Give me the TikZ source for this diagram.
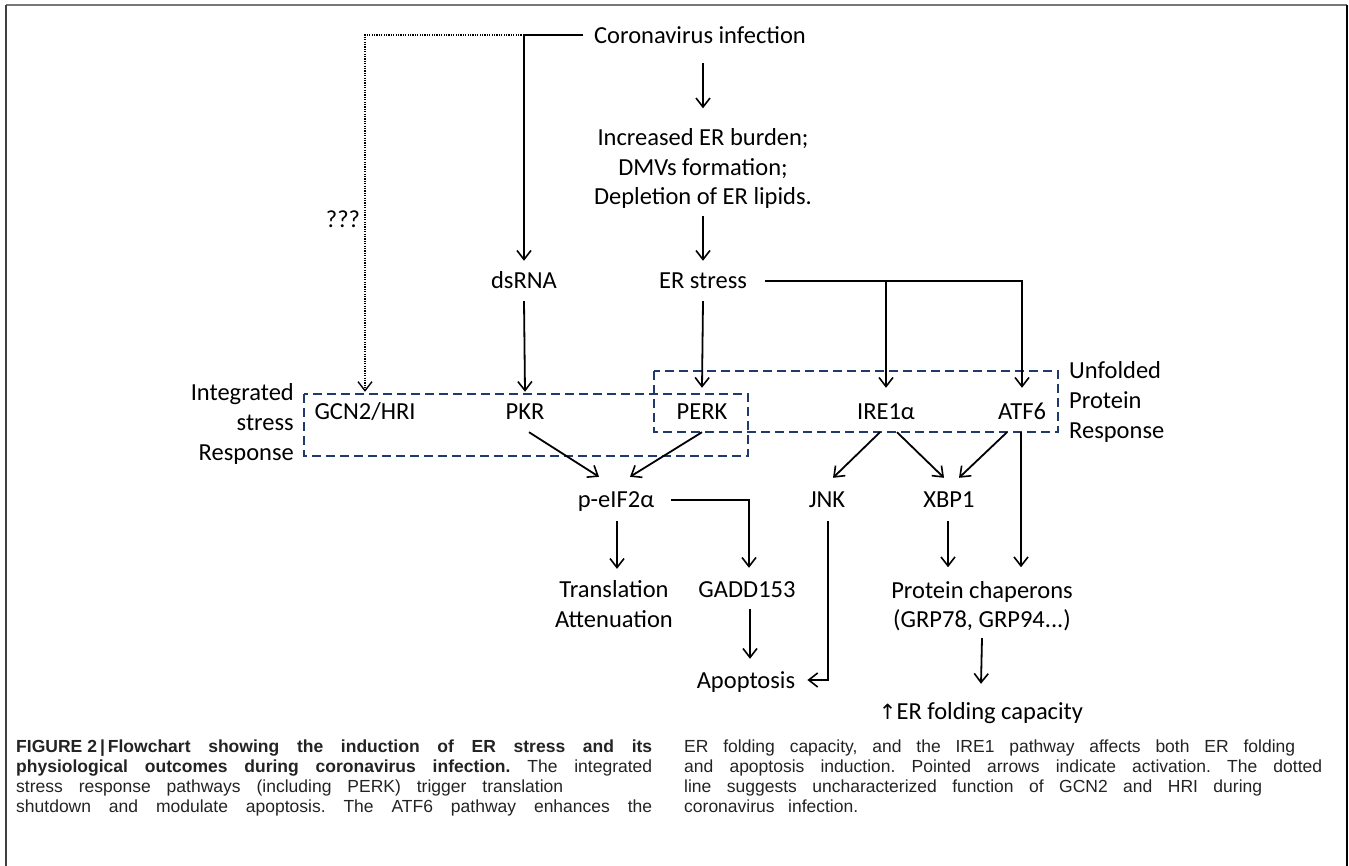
\documentclass[tikz,border=0pt]{standalone}
\usepackage{fontspec}
\usetikzlibrary{arrows.meta}
\setmainfont{Carlito}
\newfontfamily\diagf{Carlito}
\newfontfamily\djv{DejaVu Sans}
\newfontfamily\capf{Liberation Sans}
\definecolor{boxblue}{RGB}{32,58,110}
\definecolor{framegray}{RGB}{120,120,120}
\definecolor{captext}{RGB}{35,35,35}
\frenchspacing
\tikzset{
  lbl/.style={font=\diagf\fontsize{24.5}{29.5}\selectfont, inner sep=0pt, text height=17pt, text depth=5pt, anchor=base},
  mlbl/.style={font=\diagf\fontsize{24.5}{29.5}\selectfont, inner sep=0pt, align=center},
  side/.style={font=\diagf\fontsize{24.5}{30}\selectfont, inner sep=0pt},
  arr/.style={line width=1.8pt, -{Straight Barb[length=9pt,width=14pt,line width=1.6pt]}},
  dots/.style={line width=1.8pt, dash pattern=on 1.2pt off 1.2pt},
  grp/.style={draw=boxblue, line width=2.6pt, dash pattern=on 9pt off 5pt},
  captxt/.style={font=\capf\fontsize{17.5}{20}\selectfont, text=captext, inner sep=0pt, anchor=base west},
}
\begin{document}
\begin{tikzpicture}[x=1pt, y=-1pt]
\useasboundingbox (0,0) rectangle (1349,866);
% frame
\draw[framegray, line width=2pt] (6,5) -- (1347,5);
\draw[black!75, line width=1.5pt] (6,5) -- (6,866);
\draw[black, line width=2pt] (1347,5) -- (1347,866);

% group boxes
\draw[grp] (304,394) rectangle (748,456);
\draw[grp] (654,371) rectangle (1058,432);

% nodes
\node[lbl] (cor) at (700,44) {Coronavirus infection};
\node[mlbl] (inc) at (703,168.5) {Increased ER burden;\\DMVs formation;\\Depletion of ER lipids.};
\node[lbl] (ers) at (703,289) {ER stress};
\node[lbl] (dsrna) at (524,289) {dsRNA};
\node[lbl] (qqq) at (343,228) {???};
\node[lbl] (gcn) at (365,419) {GCN2/HRI};
\node[lbl] (pkr) at (525,419) {PKR};
\node[lbl] (perk) at (702,419) {PERK};
\node[lbl] (ire) at (886,419) {IRE1α};
\node[lbl] (atf) at (1022,419) {ATF6};
\node[side, align=right, anchor=east] (isr) at (294,424) {Integrated\\stress\\Response};
\node[side, align=left, anchor=west] (upr) at (1069,401.8) {Unfolded\\Protein\\Response};
\node[lbl] (peif) at (616,507) {p-eIF2α};
\node[lbl] (jnk) at (827,507) {JNK};
\node[lbl] (xbp) at (949,507) {XBP1};
\node[mlbl] (trans) at (614,604) {Translation\\Attenuation};
\node[lbl] (gadd) at (747,597) {GADD153};
\node[lbl] (apop) at (746,688) {Apoptosis};
\node[mlbl] (prot) at (982,606) {Protein chaperons\\(GRP78, GRP94...)};
\node[lbl] (erfc) at (981,719) {{\djv\fontsize{21}{24}\selectfont ↑}ER folding capacity};

% connectors
\coordinate (cj) at ([yshift=3pt]cor.west -| dsrna.north);
\draw[arr] ([xshift=-11pt,yshift=3pt]cor.west) -| ([yshift=11pt]dsrna.north);
\draw[dots, -{Straight Barb[length=9pt,width=14pt,line width=1.4pt]}] (cj) -| ([yshift=10pt]gcn.north);
\draw[arr] ([xshift=3pt,yshift=-14pt]cor.south) -- ([yshift=20pt]inc.north);
\draw[arr] ([yshift=-7.5pt]inc.south) -- ([yshift=11pt]ers.north);
\draw[arr] ([yshift=-7pt]dsrna.south) -- ([yshift=10pt]pkr.north);
\draw[arr] ([yshift=-7pt]ers.south) -- ([yshift=14pt]perk.north);
\coordinate (eb) at ([xshift=18pt,yshift=2pt]ers.east);
\draw[arr] (eb) -| ([yshift=14pt]atf.north);
\draw[arr] (eb -| ire.north) -- ([yshift=14pt]ire.north);
\draw[arr] ([xshift=4pt,yshift=-8pt]pkr.south) -- ([xshift=-17pt,yshift=13pt]peif.north);
\draw[arr] ([yshift=-8pt]perk.south) -- ([xshift=14pt,yshift=13pt]peif.north);
\draw[arr] ([xshift=-6pt,yshift=-8pt]ire.south) -- ([xshift=6pt,yshift=12pt]jnk.north);
\draw[arr] ([xshift=11pt,yshift=-8pt]ire.south) -- ([xshift=-5pt,yshift=12pt]xbp.north);
\draw[arr] ([xshift=-15pt,yshift=-8pt]atf.south) -- ([xshift=10pt,yshift=12pt]xbp.north);
\draw[arr] ([xshift=-1pt,yshift=-8pt]atf.south) -- ([xshift=39pt,yshift=13.6pt]prot.north);
\draw[arr] ([xshift=1pt,yshift=-9pt]peif.south) -- ([xshift=3pt,yshift=11.6pt]trans.north);
\draw[arr] ([xshift=16.5pt,yshift=1pt]peif.east) -| ([xshift=2pt,yshift=12pt]gadd.north);
\draw[arr] ([xshift=3pt,yshift=-7pt]gadd.south) -- ([xshift=4pt,yshift=12pt]apop.north);
\draw[arr] ([xshift=1pt,yshift=-9pt]jnk.south) |- ([xshift=12pt,yshift=2pt]apop.east);
\draw[arr] ([xshift=-1pt,yshift=-9pt]xbp.south) -- ([xshift=-34pt,yshift=13.6pt]prot.north);
\draw[arr] ([yshift=-7pt]prot.south) -- ([yshift=18pt]erfc.north);

% caption
\node[captxt] (c1) at (16,752.5) {\makebox[636pt][s]{\bfseries FIGURE\hspace{5pt}2\hspace{3pt}|\hspace{3pt}Flowchart showing the induction of ER stress and its}};
\node[captxt] (c2) at (16,772.5) {\makebox[636pt][s]{\bfseries physiological outcomes during coronavirus infection.\mdseries{} The integrated}};
\node[captxt] (c3) at (16,792.5) {\makebox[547pt][s]{stress response pathways (including PERK) trigger translation}};
\node[captxt] (c4) at (16,812.5) {\makebox[636pt][s]{shutdown and modulate apoptosis. The ATF6 pathway enhances the}};
\node[captxt] (d1) at (684,752.5) {\makebox[611pt][s]{ER folding capacity, and the IRE1 pathway affects both ER folding}};
\node[captxt] (d2) at (684,772.5) {\makebox[638pt][s]{and apoptosis induction. Pointed arrows indicate activation. The dotted}};
\node[captxt] (d3) at (684,792.5) {\makebox[578pt][s]{line suggests uncharacterized function of GCN2 and HRI during}};
\node[captxt] (d4) at (684,812.5) {\makebox[174pt][s]{coronavirus infection.}};
\end{tikzpicture}
\end{document}
